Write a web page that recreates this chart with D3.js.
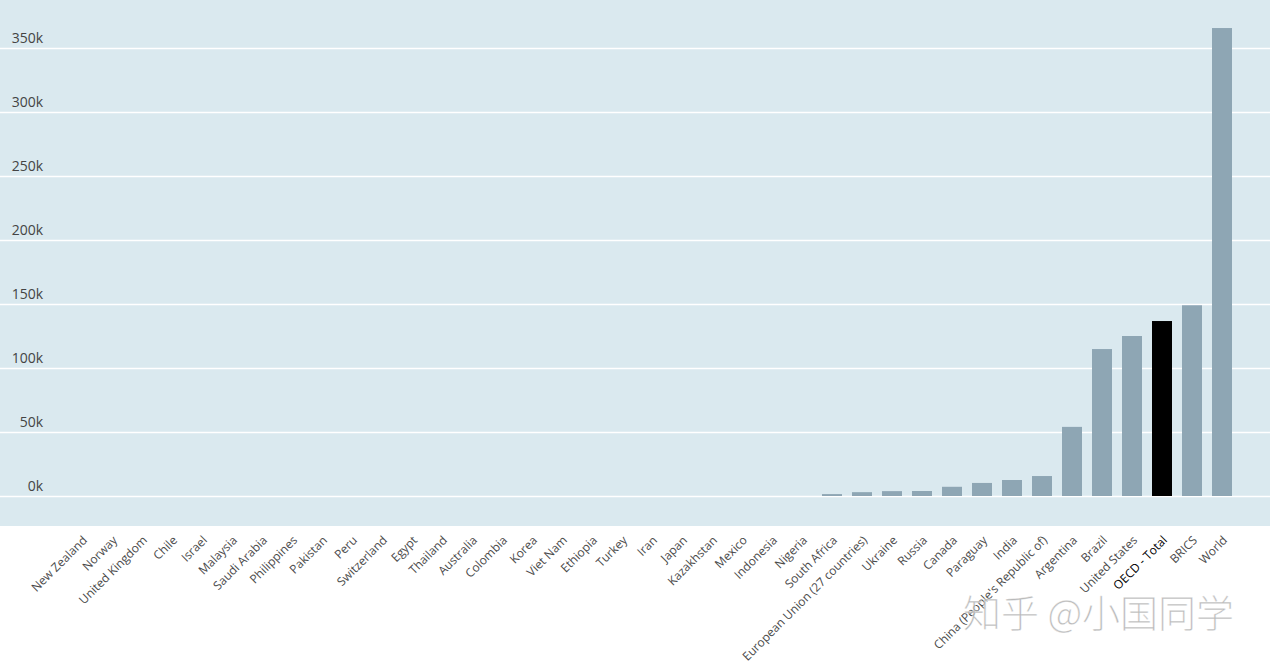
<!DOCTYPE html>
<html>
<head>
<meta charset="utf-8">
<script src="https://cdn.jsdelivr.net/npm/d3@7"></script>
<style>
  html, body { margin: 0; padding: 0; background: #fff; }
  svg { display: block; }
</style>
</head>
<body>
<svg id="chart" width="1270" height="663"></svg>
<script>
const categories = ["New Zealand","Norway","United Kingdom","Chile","Israel","Malaysia","Saudi Arabia","Philippines","Pakistan","Peru","Switzerland","Egypt","Thailand","Australia","Colombia","Korea","Viet Nam","Ethiopia","Turkey","Iran","Japan","Kazakhstan","Mexico","Indonesia","Nigeria","South Africa","European Union (27 countries)","Ukraine","Russia","Canada","Paraguay","India","China (People's Republic of)","Argentina","Brazil","United States","OECD - Total","BRICS","World"];
const values = [0,0,0,0,0,0,0,0,0,0,0,0,0,0,0,0,0,0,0,0,0,0,0,0,0,1.5,3.0,3.8,3.9,7.2,10.2,12.5,15.6,54,114.8,125,136.7,149,365.6];
const highlight = ["OECD - Total"];
const yTicks = [0,50,100,150,200,250,300,350];
const yTickLabels = ["0k","50k","100k","150k","200k","250k","300k","350k"];
const watermark = "知乎 @小国同学";

const svg = d3.select("#chart");
const W = 1270, H = 663;
const plotBottom = 526;

const x = d3.scaleBand().domain(categories).range([67, 1237]).paddingInner(1/3).paddingOuter(1/6);
const y = d3.scaleLinear().domain([0, 350]).range([496, 48]);

// background
svg.append("rect").attr("x",0).attr("y",0).attr("width",W).attr("height",plotBottom).attr("fill","#dae9ef");

// gridlines
svg.append("g").selectAll("line").data(yTicks).join("line")
  .attr("x1",0).attr("x2",W)
  .attr("y1",d=>Math.round(y(d))+0.5).attr("y2",d=>Math.round(y(d))+0.5)
  .attr("stroke","#ffffff").attr("stroke-width",1.6);

// y labels
svg.append("g").selectAll("text").data(yTicks).join("text")
  .attr("x",43).attr("y",d=>y(d)-5)
  .attr("text-anchor","end")
  .attr("font-family","'Open Sans', 'Noto Sans', sans-serif")
  .attr("font-size",14).attr("fill","#444")
  .text((d,i)=>yTickLabels[i]);

// bars
svg.append("g").selectAll("rect").data(categories).join("rect")
  .attr("x",d=>x(d)).attr("width",x.bandwidth())
  .attr("y",(d,i)=>y(values[i]))
  .attr("height",(d,i)=>y(0)-y(values[i]))
  .attr("fill",d=>highlight.includes(d)?"#000000":"#8ea6b4");

// x labels
svg.append("g").selectAll("text").data(categories).join("text")
  .attr("transform",d=>`translate(${x(d)+x.bandwidth()/2+3},${538}) rotate(-45)`)
  .attr("text-anchor","end")
  .attr("dy","0.35em")
  .attr("font-family","'Open Sans', 'Noto Sans', sans-serif")
  .attr("font-size",12)
  .attr("fill",d=>highlight.includes(d)?"#000":"#4a4a4a")
  .text(d=>d);

// watermark
svg.append("text")
  .attr("x",963).attr("y",627)
  .attr("font-family","'Noto Sans CJK SC', sans-serif")
  .attr("font-weight",300)
  .attr("font-size",38)
  .attr("fill","#8f8f8f").attr("fill-opacity",0.7)
  .attr("stroke","#ffffff").attr("stroke-width",1).attr("stroke-opacity",0.6)
  .text(watermark);
</script>
</body>
</html>
